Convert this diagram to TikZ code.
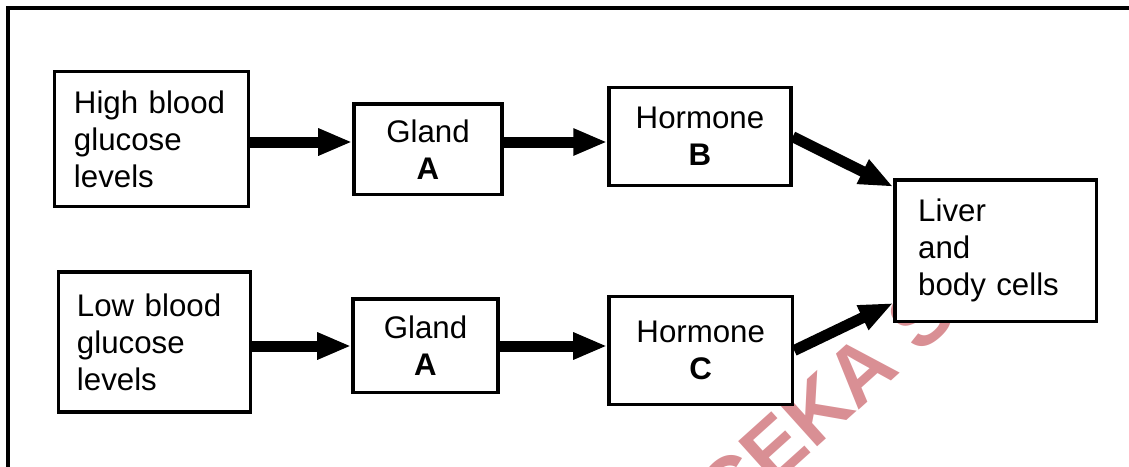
\documentclass[tikz,border=0pt]{standalone}
\usepackage{fontspec}
\setmainfont{Liberation Sans}
\usepackage{xcolor}
\usetikzlibrary{arrows.meta,calc}
\definecolor{stamp}{RGB}{217,143,148}

\begin{document}
\begin{tikzpicture}[x=0.4pt, y=-0.4pt,
    box/.style={draw, line width=1.4pt, fill=white, align=center, inner sep=0pt,
        font=\fontsize{12.5}{14.8}\selectfont},
    lbox/.style={box, align=left, text width=62pt, inner xsep=#1},
    bigarrow/.style={line width=4.4pt, -{Triangle[length=13.6pt, width=10pt]}}]
    % Page
    \useasboundingbox (0,0) rectangle (1129,467);
    \clip (0,0) rectangle (1129,467);

    % Watermark
    \node[stamp, rotate=42, anchor=base west, inner sep=0pt,
        font=\fontsize{33}{33}\bfseries\selectfont] (mark) at (728,528) {CEKA S};

    % Frame
    \draw[line width=1.6pt] (8,480) -- (8,8) -- (1140,8);

    % High glucose row
    \node[lbox=7.8pt, minimum height=54pt] (hi) at (151.5,139) {High blood\\glucose\\levels};
    \node[box, minimum width=59.2pt, minimum height=36.2pt] (glhi) at (428,149.3) {Gland\\\textbf{A}};
    \node[box, minimum width=72.8pt, minimum height=39.2pt] (hB) at (700,136.7) {Hormone\\\textbf{B}};

    % Low glucose row
    \node[lbox=7.4pt, minimum height=56pt] (lo) at (154.5,342) {Low blood\\glucose\\levels};
    \node[box, minimum width=58pt, minimum height=37.4pt] (gllo) at (425.5,345.7) {Gland\\\textbf{A}};
    \node[box, minimum width=73.4pt, minimum height=43.2pt] (hC) at (700.7,350.5) {Hormone\\\textbf{C}};

    % Target
    \node[lbox=9.3pt, minimum height=56.7pt] (liv) at (995.7,250.8) {Liver\\and\\body cells};

    % Arrows
    \coordinate (rowhi) at (0,142);
    \coordinate (rowlo) at (0,346);
    \draw[bigarrow] (hi.east |- rowhi) -- (glhi.west |- rowhi);
    \draw[bigarrow] (glhi.east |- rowhi) -- (hB.west |- rowhi);
    \draw[bigarrow] (lo.east |- rowlo) -- (gllo.west |- rowlo);
    \draw[bigarrow] (gllo.east |- rowlo) -- (hC.west |- rowlo);
    \draw[bigarrow] (hB.east) -- (liv.148);
    \draw[bigarrow] (hC.east) -- (liv.207);
\end{tikzpicture}
\end{document}
